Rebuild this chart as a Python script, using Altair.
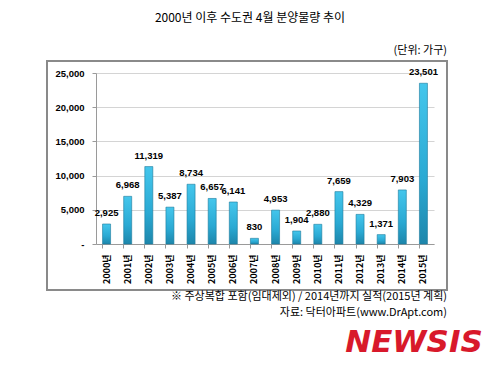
import altair as alt
import pandas as pd

years = ["2000년", "2001년", "2002년", "2003년", "2004년", "2005년", "2006년", "2007년",
         "2008년", "2009년", "2010년", "2011년", "2012년", "2013년", "2014년", "2015년"]
values = [2925, 6968, 11319, 5387, 8734, 6657, 6141, 830,
          4953, 1904, 2880, 7659, 4329, 1371, 7903, 23501]
y_ticks = [0, 5000, 10000, 15000, 20000, 25000]

title_text = "2000년 이후 수도권 4월 분양물량 추이"
unit_text = "(단위: 가구)"
note_text = "※ 주상복합 포함(임대제외) / 2014년까지 실적(2015년 계획)"
source_text = "자료: 닥터아파트(www.DrApt.com)"
logo_text = "NEWSIS"

df = pd.DataFrame({"year": years, "value": values})

W, H = 338, 171
KFONT = "Noto Sans CJK KR"
NFONT = "Liberation Sans"

grad = alt.Gradient(
    gradient="linear",
    stops=[alt.GradientStop(color="#44c6ec", offset=0),
           alt.GradientStop(color="#2aa9d3", offset=0.6),
           alt.GradientStop(color="#1d86ab", offset=1)],
    x1=0, x2=0, y1=0, y2=1,
)

x_enc = alt.X("year:N", sort=years, title=None,
              scale=alt.Scale(paddingInner=0.62, paddingOuter=0.31),
              axis=alt.Axis(labelAngle=270, labelFont=KFONT, labelFontSize=9,
                            labelFontWeight="bold", labelColor="#000000",
                            labelPadding=6, domainColor="#9a9a9a", tickColor="#9a9a9a",
                            tickSize=4, bandPosition=0, ticks=True))
y_enc = alt.Y("value:Q", title=None,
              scale=alt.Scale(domain=[0, 25000], nice=False, zero=True),
              axis=alt.Axis(values=y_ticks,
                            labelExpr="datum.value == 0 ? '-' : format(datum.value, ',')",
                            labelFont=NFONT, labelFontSize=9.5, labelFontWeight="bold",
                            labelColor="#000000", labelPadding=8, labelOverlap=False,
                            labelFlush=False,
                            grid=True, gridColor="#d4d4d4", gridWidth=1.2,
                            domainColor="#9a9a9a", tickColor="#9a9a9a", tickSize=4))

frame = alt.Chart(df).mark_rect(fill=None, stroke="#8a8a8a", strokeWidth=1.2).encode(
    x=alt.value(-49), x2=alt.value(351), y=alt.value(-12), y2=alt.value(217))

bars = alt.Chart(df).mark_bar(color=grad, stroke="#1b7a9c", strokeWidth=0.6).encode(
    x=x_enc, y=y_enc)

labels = alt.Chart(df).mark_text(dy=-11, font=NFONT, fontSize=9.5, fontWeight="bold",
                                 color="#000000").encode(
    x=x_enc, y=y_enc,
    text=alt.Text("value:Q", format=","))

def note(txt, x, y, size, align="center", font=KFONT, color="#000000", weight="normal", style="normal"):
    return alt.Chart(pd.DataFrame({"t": [txt]})).mark_text(
        align=align, baseline="middle", font=font, fontSize=size, color=color,
        fontWeight=weight, fontStyle=style).encode(
        x=alt.value(x), y=alt.value(y), text="t:N")

texts = [
    note(title_text, 154, -55, 12),
    note(unit_text, 351, -22, 11, align="right"),
    note(note_text, 351, 224, 11, align="right"),
    note(source_text, 351, 240, 11, align="right"),
    note(logo_text, 318, 270, 31, align="center", font="DejaVu Sans", color="#d8192b",
         weight="bold", style="italic"),
]

chart = alt.layer(frame, bars, labels, *texts).properties(
    width=W, height=H,
    autosize=alt.AutoSizeParams(type="none"),
    padding={"left": 88, "top": 65, "right": 58, "bottom": 120},
).configure_view(stroke=None)

chart.save("out.html", embed_options={"renderer": "svg", "actions": False})
